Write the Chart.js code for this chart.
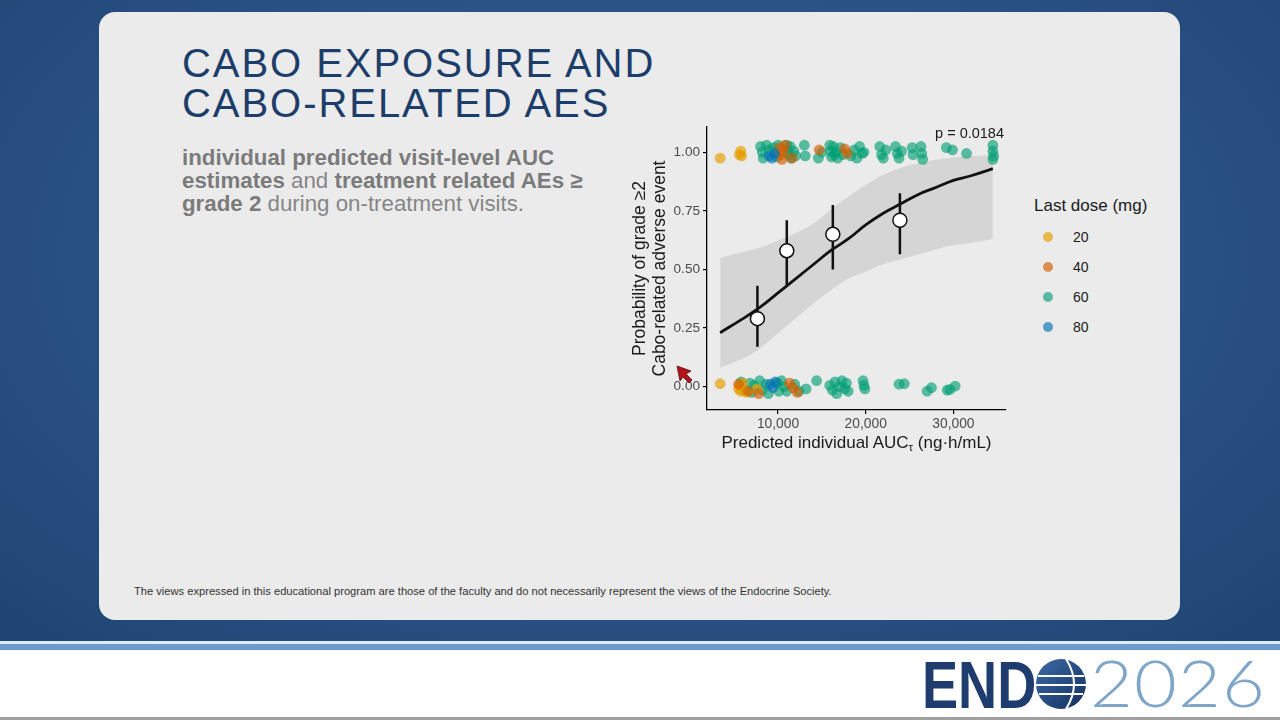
<!DOCTYPE html>
<html>
<head>
<meta charset="utf-8">
<script src="https://cdn.jsdelivr.net/npm/chart.js@4.4.1/dist/chart.umd.min.js"></script>
<style>
  body { margin: 0; width: 1280px; height: 720px; overflow: hidden; position: relative; background: #fff; font-family: "Liberation Sans", Arial, sans-serif; }
  .abs { position: absolute; }
  #bg { left: 0; top: 0; width: 1280px; height: 641px; background: radial-gradient(ellipse at 50% 40%, #34608f 0%, #2a5283 55%, #1f4574 100%); }
  #line1 { left: 0; top: 641px; width: 1280px; height: 3px; background: #dcecf7; }
  #line2 { left: 0; top: 644px; width: 1280px; height: 6px; background: #6c9ccd; }
  #line3 { left: 0; top: 717px; width: 1280px; height: 3px; background: #a0a0a0; }
  #panel { left: 99px; top: 12px; width: 1081px; height: 608px; background: #ebebeb; border-radius: 16px; }
  #title { left: 182px; top: 43px; font-size: 40px; line-height: 40px; letter-spacing: 1.95px; color: #1d3d6a; white-space: nowrap; }
  #sub { left: 182px; top: 145.5px; font-size: 22.3px; line-height: 23.3px; color: #868686; white-space: nowrap; }
  #sub b { color: #7b7b7b; }
  #foot { left: 134px; top: 585px; font-size: 11.15px; line-height: 13px; color: #333; white-space: nowrap; }
  #chartBox { left: 600px; top: 115px; width: 420px; height: 350px; }
  #xtitle { left: 707px; top: 433px; width: 299px; text-align: center; font-size: 17px; line-height: 20px; color: #1a1a1a; white-space: nowrap; }
  #xtitle sub { font-size: 11.5px; vertical-align: -3px; line-height: 0; }
  #ptext { left: 884px; top: 125px; width: 120px; text-align: right; font-size: 14.5px; line-height: 16px; color: #1a1a1a; }
  #legTitle { left: 1034px; top: 196px; font-size: 17px; line-height: 20px; color: #1a1a1a; white-space: nowrap; }
  .legItem { left: 1043px; height: 16px; font-size: 14px; line-height: 16px; color: #1a1a1a; }
  .legItem span.dot { position: absolute; left: 0; top: 3px; width: 10px; height: 10px; border-radius: 50%; }
  .legItem span.lab { position: absolute; left: 30px; top: 0; }
  #logoEnd { left: 922px; top: 660px; font-size: 66px; line-height: 50px; font-weight: bold; color: #1e3c6e; white-space: nowrap; transform: scaleX(0.82); transform-origin: left top; }
  #logoYear { left: 1090px; top: 654.4px; font-family: Lato, "Liberation Sans", Arial, sans-serif; font-weight: 300; font-size: 66px; line-height: 56px; letter-spacing: 1px; color: #7fa6c9; white-space: nowrap; transform: scaleX(1.12); transform-origin: left top; }
</style>
</head>
<body>
<div id="bg" class="abs"></div>
<div id="line1" class="abs"></div>
<div id="line2" class="abs"></div>
<div id="line3" class="abs"></div>
<div id="panel" class="abs"></div>

<div id="title" class="abs">CABO EXPOSURE AND<br>CABO-RELATED AES</div>
<div id="sub" class="abs"><b>individual predicted visit-level AUC</b><br><b>estimates</b> and <b>treatment related AEs ≥</b><br><b>grade 2</b> during on-treatment visits.</div>
<div id="foot" class="abs">The views expressed in this educational program are those of the faculty and do not necessarily represent the views of the Endocrine Society.</div>

<div id="chartBox" class="abs"><canvas id="chart" width="420" height="350"></canvas></div>
<div id="xtitle" class="abs">Predicted individual AUC<sub>τ</sub> (ng·h/mL)</div>
<div id="ptext" class="abs">p = 0.0184</div>
<div id="legTitle" class="abs">Last dose (mg)</div>
<div id="legend"></div>

<svg class="abs" style="left:0;top:0" width="1280" height="720">
  <!-- mouse cursor -->
  <polygon points="677,366 691,371 686,374 692,380 689,383 683,377 680,381" fill="#b3131b" stroke="#5a0a0e" stroke-width="0.8"/>
  <defs>
    <linearGradient id="globe" x1="0" y1="0" x2="1" y2="1">
      <stop offset="0" stop-color="#3c6aa8"/>
      <stop offset="1" stop-color="#14305e"/>
    </linearGradient>
  </defs>
  <circle cx="1061" cy="684" r="25" fill="url(#globe)"/>
  <path d="M1038,676 H1084 M1036,685 H1086 M1039,694 H1083" stroke="#fff" stroke-width="2" fill="none"/>
  <path d="M1066,659 Q1082,684 1066,709" stroke="#fff" stroke-width="2" fill="none"/>
</svg>
<div id="logoEnd" class="abs">END</div>
<div id="logoYear" class="abs">2026</div>

<script>
// axis ticks
const xTicks = [10000, 20000, 30000];
const yTicks = [0, 0.25, 0.5, 0.75, 1.0];

// fitted logistic curve
const curveX = [3400, 6000, 8000, 10000, 12000, 14000, 16000, 18000, 20000, 22000, 24000, 26000, 28000, 30000, 32000, 34500];
const curveY = [0.23, 0.29, 0.34, 0.40, 0.46, 0.52, 0.58, 0.63, 0.69, 0.74, 0.78, 0.82, 0.85, 0.88, 0.90, 0.93];

// confidence band
const bandX = [3400, 6600, 8500, 10400, 12300, 14200, 16000, 18000, 20000, 21800, 23700, 25600, 27500, 29400, 31500, 34500];
const bandUpper = [0.55, 0.58, 0.60, 0.63, 0.66, 0.70, 0.755, 0.81, 0.86, 0.90, 0.93, 0.95, 0.965, 0.975, 0.982, 0.99];
const bandLower = [0.08, 0.13, 0.18, 0.24, 0.30, 0.36, 0.41, 0.46, 0.49, 0.52, 0.54, 0.56, 0.58, 0.60, 0.61, 0.63];

// binned observed proportions
const meanX = [7650, 11000, 16250, 23900];
const meanY = [0.29, 0.58, 0.65, 0.71];
const ciLow = [0.17, 0.43, 0.50, 0.565];
const ciHigh = [0.43, 0.71, 0.775, 0.825];

// individual visits [AUC, event (jittered)]
const doseLabels = ["20", "40", "60", "80"];
const doseColors = ["rgba(230,159,0,0.68)", "rgba(213,94,0,0.65)", "rgba(0,158,115,0.63)", "rgba(0,114,178,0.65)"];

const dose20Pts = [[3400,0.975],[5600,0.99],[5750,1.005],[5850,0.985],
  [3400,0.012],[5500,-0.01],[5650,0.005],[5750,-0.02],[6000,0.015],[6400,-0.025],[7600,-0.01]];
const dose40Pts = [[10200,1.02],[10300,0.99],[10450,0.97],[10600,1.005],[10800,1.03],[11600,0.975],[14700,1.01],[17600,1.015],[17900,0.995],
  [5500,0.01],[6600,-0.02],[7800,-0.03],[11300,0.015],[11700,-0.005],[12200,-0.025]];
const dose60Pts = [[8000,1.025],[8200,1.0],[8300,0.975],[8700,1.03],[9000,1.01],[9500,1.02],[9900,0.98],[10000,1.03],
  [11000,1.03],[11100,1.01],[11200,0.99],[11400,1.025],[11500,0.975],[11800,1.005],[12000,0.985],
  [13000,1.03],[13100,0.985],[14600,0.975],[15000,1.0],
  [15900,1.03],[16000,1.005],[16100,0.98],[16300,1.025],[16400,0.99],[16600,1.0],[16800,0.975],[17100,1.02],[17400,0.99],
  [18300,0.985],[18700,1.01],[19000,0.975],[19300,1.025],[19600,0.995],[19800,1.0],
  [21600,1.025],[21800,0.99],[22000,0.975],[22300,1.01],
  [23400,1.025],[23600,0.995],[23800,0.975],[24100,1.005],
  [25300,1.02],[25400,0.99],[26300,1.025],[26400,0.995],[26500,0.97],
  [29200,1.02],[29900,1.01],[31500,0.995],
  [34500,1.03],[34500,1.005],[34600,0.985],[34500,0.97],
  [5800,0.02],[6200,-0.015],[6800,0.015],[7000,-0.025],[7300,0.005],[7900,0.025],[8200,-0.015],[8600,0.01],[8900,-0.03],
  [9900,0.015],[10100,-0.02],[10400,0.025],[10700,0.0],[11000,-0.02],[11900,0.01],[12400,-0.02],
  [13200,-0.01],[14400,0.025],
  [15900,0.005],[16200,-0.015],[16500,0.02],[16700,-0.03],[17000,0.0],[17300,0.025],[17600,-0.01],[17800,0.015],[18000,-0.02],
  [19700,0.025],[19800,0.005],[19900,-0.01],
  [23800,0.01],[24400,0.012],[27000,-0.02],[27500,-0.005],[29300,-0.015],[29600,-0.012],[30200,0.002]];
const dose80Pts = [[9000,0.985],[9300,0.975],[9600,0.995],[9100,0.01],[9400,-0.005],[9700,0.02]];

const dosePts = [dose20Pts, dose40Pts, dose60Pts, dose80Pts];
const doseOrder = [5, 4, 6, 3];

// html legend
const legend = document.getElementById("legend");
const legendTops = [229, 259, 289, 319];
doseLabels.forEach(function (lab, i) {
  const item = document.createElement("div");
  item.className = "abs legItem";
  item.style.top = legendTops[i] + "px";
  item.innerHTML = '<span class="dot" style="background:' + doseColors[i] + '"></span><span class="lab">' + lab + '</span>';
  legend.appendChild(item);
});

const toXY = (xs, ys) => xs.map((x, i) => ({ x: x, y: ys[i] }));

// error bars as broken line segments
const errData = [];
meanX.forEach(function (x, i) {
  errData.push({ x: x, y: ciLow[i] }, { x: x, y: ciHigh[i] }, { x: x, y: null });
});

const datasets = [
  { type: "line", data: toXY(bandX, bandUpper), borderWidth: 0, pointRadius: 0, fill: "+1",
    backgroundColor: "#d5d5d5", tension: 0.4, order: 10 },
  { type: "line", data: toXY(bandX, bandLower), borderWidth: 0, pointRadius: 0, fill: false,
    tension: 0.4, order: 10 },
  { type: "line", data: toXY(curveX, curveY), borderColor: "#111", borderWidth: 2.8, pointRadius: 0,
    fill: false, tension: 0.4, order: 2 },
  { type: "line", data: errData, borderColor: "#111", borderWidth: 2.5, pointRadius: 0, spanGaps: false,
    fill: false, order: 1 },
  { type: "scatter", data: toXY(meanX, meanY), pointRadius: 7, pointBackgroundColor: "#fff",
    pointBorderColor: "#111", pointBorderWidth: 1.5, order: 0 }
];
dosePts.forEach(function (pts, i) {
  datasets.push({
    type: "scatter",
    data: pts.map(p => ({ x: p[0], y: p[1] })),
    pointRadius: 5.4,
    pointBackgroundColor: doseColors[i],
    pointBorderWidth: 0,
    order: doseOrder[i]
  });
});

new Chart(document.getElementById("chart"), {
  type: "scatter",
  data: { datasets: datasets },
  options: {
    responsive: false,
    animation: false,
    layout: { padding: { top: 12, right: 14, left: 0, bottom: 0 } },
    plugins: { legend: { display: false }, tooltip: { enabled: false } },
    scales: {
      x: {
        type: "linear", min: 1900, max: 36000,
        afterBuildTicks: s => { s.ticks = xTicks.map(v => ({ value: v })); },
        afterFit: s => { s.height = 55; },
        ticks: { color: "#4d4d4d", font: { size: 13.8, family: "Liberation Sans, Arial" }, padding: 2,
          callback: v => v.toLocaleString("en-US") },
        grid: { drawOnChartArea: false, drawTicks: true, tickLength: 4, color: "#000", lineWidth: 1.2 },
        border: { display: true, color: "#000", width: 1.3 }
      },
      y: {
        type: "linear", min: -0.1, max: 1.108,
        afterBuildTicks: s => { s.ticks = yTicks.map(v => ({ value: v })); },
        afterFit: s => { s.width = 107; },
        ticks: { color: "#4d4d4d", font: { size: 13.6, family: "Liberation Sans, Arial" }, padding: 3,
          callback: v => v.toFixed(2) },
        grid: { drawOnChartArea: false, drawTicks: true, tickLength: 4, color: "#000", lineWidth: 1.2 },
        border: { display: true, color: "#000", width: 1.3 },
        title: { display: true, text: ["Probability of grade ≥2", "Cabo-related adverse event"],
          color: "#1a1a1a", font: { size: 17.5, family: "Liberation Sans, Arial", lineHeight: 1.143 },
          padding: { top: 30, bottom: 0 } }
      }
    }
  }
});
</script>
</body>
</html>
